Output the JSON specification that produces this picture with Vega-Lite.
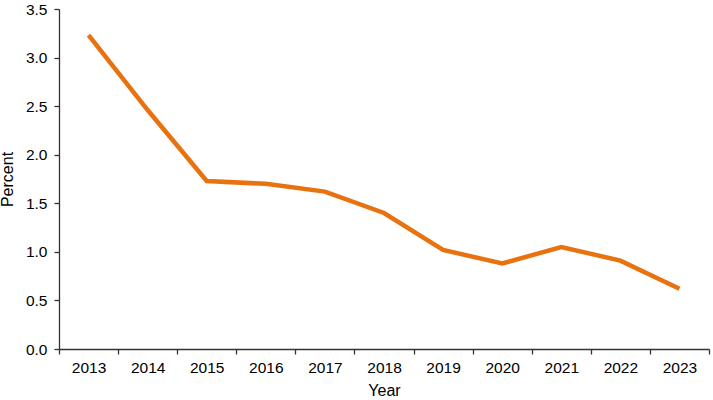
{
  "$schema": "https://vega.github.io/schema/vega-lite/v6.json",
  "width": 650,
  "height": 340,
  "autosize": "none",
  "padding": {"left": 59, "top": 9, "right": 4, "bottom": 51},
  "config": {
    "view": {"stroke": null}
  },
  "data": {"values": [
    {"year": "2013", "value": 3.23},
    {"year": "2014", "value": 2.46},
    {"year": "2015", "value": 1.73},
    {"year": "2016", "value": 1.70},
    {"year": "2017", "value": 1.62},
    {"year": "2018", "value": 1.40},
    {"year": "2019", "value": 1.02},
    {"year": "2020", "value": 0.88},
    {"year": "2021", "value": 1.05},
    {"year": "2022", "value": 0.91},
    {"year": "2023", "value": 0.62}
  ]},
  "mark": {"type": "line", "color": "#E8720E", "strokeWidth": 4.5},
  "encoding": {
    "x": {"field": "year", "type": "ordinal", "bandPosition": 0.5,
      "scale": {"type": "band", "paddingInner": 0, "paddingOuter": 0},
      "axis": {"title": "Year", "labelAngle": 0, "tickBand": "extent", "tickSize": 5, "labelPadding": 6, "titlePadding": 7,
        "grid": false, "domainColor": "#333", "tickColor": "#333", "labelColor": "#000", "titleColor": "#000",
        "labelFont": "Liberation Sans", "titleFont": "Liberation Sans", "labelFontSize": 15.5, "titleFontSize": 16,
        "titleFontWeight": "normal", "domainWidth": 1.3, "tickWidth": 1.3, "labelOverlap": false}},
    "y": {"field": "value", "type": "quantitative",
      "scale": {"domain": [0, 3.5], "nice": false},
      "axis": {"title": "Percent", "format": ".1f", "values": [0, 0.5, 1, 1.5, 2, 2.5, 3, 3.5], "tickSize": 5, "labelPadding": 7, "titlePadding": 10,
        "grid": false, "domainColor": "#333", "tickColor": "#333", "labelColor": "#000", "titleColor": "#000",
        "labelFont": "Liberation Sans", "titleFont": "Liberation Sans", "labelFontSize": 15.5, "titleFontSize": 16,
        "titleFontWeight": "normal", "domainWidth": 1.3, "tickWidth": 1.3, "labelOverlap": false}}
  }
}
